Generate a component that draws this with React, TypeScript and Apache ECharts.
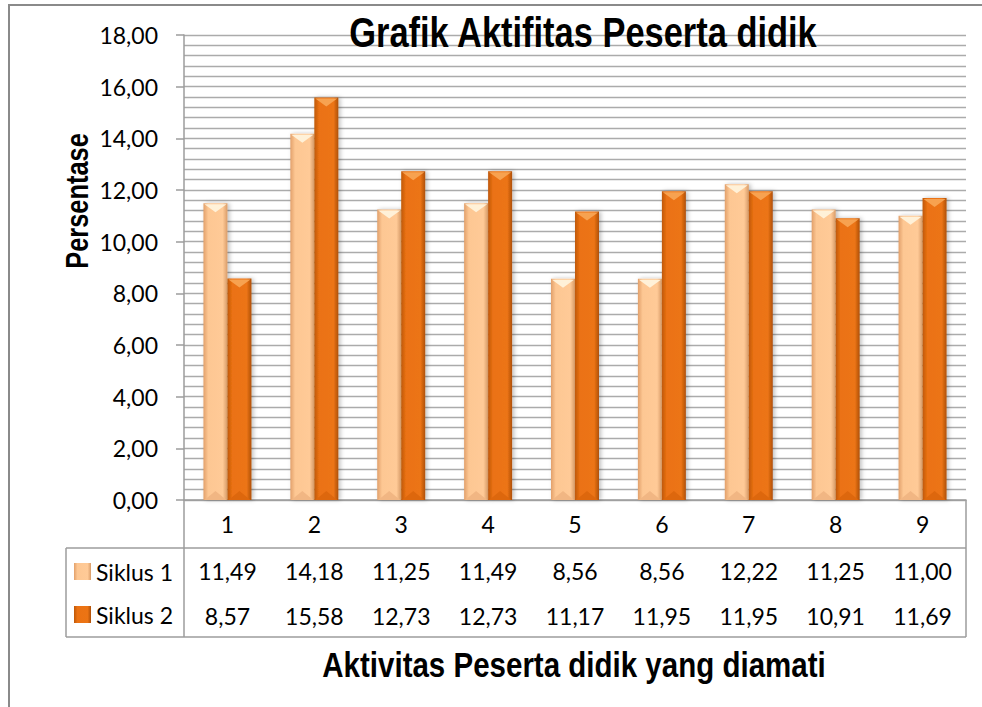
import React, { useEffect, useRef } from "react";
import * as echarts from "echarts";

const categories = ["1", "2", "3", "4", "5", "6", "7", "8", "9"];
const siklus1 = [11.49, 14.18, 11.25, 11.49, 8.56, 8.56, 12.22, 11.25, 11.0];
const siklus2 = [8.57, 15.58, 12.73, 12.73, 11.17, 11.95, 11.95, 10.91, 11.69];
const seriesNames = ["Siklus 1", "Siklus 2"];
const titleText = "Grafik Aktifitas Peserta didik";
const yTitle = "Persentase";
const xTitle = "Aktivitas Peserta didik yang diamati";

const fmt = (v: number) => v.toFixed(2).replace(".", ",");

const W = 982;
const H = 707;
const G_LEFT = 184;
const G_RIGHT = 966;
const G_TOP = 35;
const G_BOTTOM = 500;
const ROW1 = 548;
const TABLE_BOTTOM = 637;
const LEGEND_LEFT = 66;
const BAR_W = 24;
const BORDER = "#9c9c9c";
const FONT = "Lato";
const BOLD_FONT = "'Liberation Sans', Arial, sans-serif";
const NARROW_SCALE = 0.82;

const lightGrad = new echarts.graphic.LinearGradient(0, 0, 1, 0, [
  { offset: 0, color: "#E2A06A" },
  { offset: 0.2, color: "#FDC793" },
  { offset: 0.8, color: "#FFCA97" },
  { offset: 1, color: "#D99C68" },
]);
const darkGrad = new echarts.graphic.LinearGradient(0, 0, 1, 0, [
  { offset: 0, color: "#BF5807" },
  { offset: 0.2, color: "#EB7213" },
  { offset: 0.8, color: "#EC7414" },
  { offset: 1, color: "#AE5009" },
]);

function bevel(offset: number, topColor: string, bottomColor: string) {
  return (_params: any, api: any) => {
    const idx = api.value(0);
    const val = api.value(1);
    const top = api.coord([idx, val]);
    const base = api.coord([idx, 0]);
    const cx = top[0] + offset;
    const hw = BAR_W / 2 - 1;
    const h = 9;
    return {
      type: "group",
      children: [
        {
          type: "polygon",
          shape: { points: [[cx - hw, top[1] + 1], [cx + hw, top[1] + 1], [cx, top[1] + h]] },
          style: { fill: topColor },
        },
        {
          type: "polygon",
          shape: { points: [[cx - hw, base[1]], [cx + hw, base[1]], [cx, base[1] - h]] },
          style: { fill: bottomColor },
        },
      ],
    };
  };
}

export default function App() {
  const ref = useRef<HTMLDivElement>(null);
  useEffect(() => {
    if (!ref.current) return;
    const chart = echarts.init(ref.current, null, { renderer: "svg" });
    const line = (x1: number, y1: number, x2: number, y2: number) => ({
      type: "line",
      shape: { x1, y1, x2, y2 },
      style: { stroke: BORDER, lineWidth: 1.5 },
      silent: true,
    });
    chart.setOption({
      animation: false,
      backgroundColor: "#ffffff",
      grid: { left: G_LEFT, right: W - G_RIGHT, top: G_TOP, bottom: H - G_BOTTOM, containLabel: false },
      legend: {
        data: seriesNames,
        orient: "vertical",
        left: 74,
        top: 560,
        padding: 0,
        itemWidth: 17,
        itemHeight: 17,
        itemGap: 20,
        icon: "rect",
        textStyle: { fontFamily: FONT, fontSize: 23, lineHeight: 23, color: "#000" },
      },
      xAxis: {
        type: "category",
        data: categories,
        axisLine: { show: true, lineStyle: { color: BORDER, width: 1.5 } },
        axisTick: { show: false },
        splitLine: { show: false },
        axisLabel: {
          interval: 0,
          margin: 0,
          fontFamily: FONT,
          fontSize: 23,
          color: "#000",
          formatter: (value: string, index: number) =>
            `{c|${value}}\n{v|${fmt(siklus1[index])}}\n{w|${fmt(siklus2[index])}}`,
          rich: {
            c: { fontFamily: FONT, fontSize: 23, lineHeight: 48, color: "#000" },
            v: { fontFamily: FONT, fontSize: 23, lineHeight: 46, color: "#000" },
            w: { fontFamily: FONT, fontSize: 23, lineHeight: 43, color: "#000" },
          },
        },
      },
      yAxis: {
        type: "value",
        min: 0,
        max: 18,
        interval: 2,
        axisLine: { show: true, lineStyle: { color: BORDER, width: 1.5 } },
        axisTick: { show: true, length: 8, lineStyle: { color: BORDER, width: 1.5 } },
        axisLabel: {
          margin: 26,
          fontFamily: FONT,
          fontSize: 23,
          color: "#000",
          formatter: (v: number) => fmt(v),
        },
        splitLine: { show: true, lineStyle: { color: "#ababab", width: 1.3 } },
        minorTick: { show: false, splitNumber: 5 },
        minorSplitLine: { show: true, lineStyle: { color: "#ababab", width: 1.3 } },
      },
      series: [
        {
          name: seriesNames[0],
          type: "bar",
          data: siklus1,
          barWidth: BAR_W,
          barGap: "0%",
          itemStyle: {
            color: lightGrad,
            shadowColor: "rgba(0,0,0,0.25)",
            shadowBlur: 4,
            shadowOffsetX: 2,
          },
        },
        {
          name: seriesNames[1],
          type: "bar",
          data: siklus2,
          barWidth: BAR_W,
          barGap: "0%",
          itemStyle: {
            color: darkGrad,
            shadowColor: "rgba(0,0,0,0.25)",
            shadowBlur: 4,
            shadowOffsetX: 2,
          },
        },
        {
          name: "bevel1",
          type: "custom",
          data: siklus1.map((v, i) => [i, v]),
          renderItem: bevel(-BAR_W / 2, "#FFF1D8", "#F1B683"),
          z: 5,
          silent: true,
        },
        {
          name: "bevel2",
          type: "custom",
          data: siklus2.map((v, i) => [i, v]),
          renderItem: bevel(BAR_W / 2, "#F7A250", "#DD670D"),
          z: 5,
          silent: true,
        },
      ],
      graphic: [
        {
          type: "rect",
          shape: { x: 9, y: 5, width: 1000, height: 720 },
          style: { fill: "none", stroke: "#8a8a8a", lineWidth: 2 },
          silent: true,
          z: -10,
        },
        line(G_LEFT, G_BOTTOM, G_LEFT, TABLE_BOTTOM),
        line(G_RIGHT, G_BOTTOM, G_RIGHT, TABLE_BOTTOM),
        line(LEGEND_LEFT, ROW1, G_RIGHT, ROW1),
        line(LEGEND_LEFT, TABLE_BOTTOM, G_RIGHT, TABLE_BOTTOM),
        line(LEGEND_LEFT, ROW1, LEGEND_LEFT, TABLE_BOTTOM),
        {
          type: "text",
          x: 583,
          y: 32,
          scaleX: NARROW_SCALE,
          style: {
            text: titleText,
            fontFamily: BOLD_FONT,
            fontWeight: "bold",
            fontSize: 42,
            fill: "#000",
            align: "center",
            verticalAlign: "middle",
          },
          z: 10,
        },
        {
          type: "text",
          x: 77,
          y: 201,
          rotation: Math.PI / 2,
          scaleX: NARROW_SCALE,
          style: {
            text: yTitle,
            fontFamily: BOLD_FONT,
            fontWeight: "bold",
            fontSize: 31,
            fill: "#000",
            align: "center",
            verticalAlign: "middle",
          },
        },
        {
          type: "text",
          x: 574,
          y: 664,
          scaleX: NARROW_SCALE,
          style: {
            text: xTitle,
            fontFamily: BOLD_FONT,
            fontWeight: "bold",
            fontSize: 36,
            fill: "#000",
            align: "center",
            verticalAlign: "middle",
          },
        },
      ],
    });
    return () => chart.dispose();
  }, []);
  return (
    <div
      ref={ref}
      style={{ position: "absolute", left: 0, top: 0, width: W, height: H, background: "#fff" }}
    />
  );
}
